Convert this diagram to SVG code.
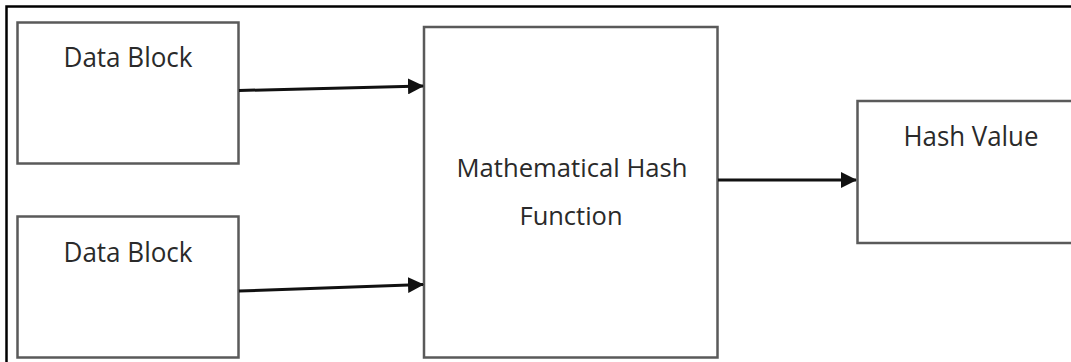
<svg xmlns="http://www.w3.org/2000/svg" width="1071" height="362" viewBox="0 0 1071 362">
  <style>
    .box { fill: #ffffff; stroke: #5a5a5a; stroke-width: 2.5; }
    .lbl { font-family: "Open Sans", "Liberation Sans", sans-serif; font-size: 28px; fill: #2a2a2a; }
    .mid { font-size: 26px; }
    .conn { stroke: #111111; stroke-width: 3; fill: none; marker-end: url(#arrow); }
    .frame { stroke: #000000; stroke-width: 2.5; fill: none; }
  </style>
  <defs>
    <marker id="arrow" markerWidth="16" markerHeight="16" refX="15" refY="8" orient="auto" markerUnits="userSpaceOnUse">
      <path d="M0,0 L16,8 L0,16 Z" fill="#111111"/>
    </marker>
  </defs>
  <rect x="0" y="0" width="1071" height="362" fill="#ffffff"/>
  <path class="frame" d="M6.5,362 L6.5,6.5 L1071,6.5"/>

  <g id="data-block-1">
    <rect class="box" x="17.5" y="22.5" width="221" height="141"/>
    <text class="lbl" x="128" y="67" text-anchor="middle" textLength="129" lengthAdjust="spacingAndGlyphs">Data Block</text>
  </g>
  <g id="data-block-2">
    <rect class="box" x="17.5" y="216.5" width="221" height="141"/>
    <text class="lbl" x="128" y="262" text-anchor="middle" textLength="129" lengthAdjust="spacingAndGlyphs">Data Block</text>
  </g>
  <g id="hash-function">
    <rect class="box" x="424" y="27" width="293.5" height="330.5"/>
    <text class="lbl mid" x="572" y="177" text-anchor="middle" textLength="231" lengthAdjust="spacingAndGlyphs">Mathematical Hash</text>
    <text class="lbl mid" x="571" y="225" text-anchor="middle" textLength="103" lengthAdjust="spacingAndGlyphs">Function</text>
  </g>
  <g id="hash-value">
    <rect class="box" x="857.5" y="101" width="230" height="142"/>
    <text class="lbl" x="971" y="146" text-anchor="middle" textLength="135" lengthAdjust="spacingAndGlyphs">Hash Value</text>
  </g>

  <g id="connectors">
    <line class="conn" x1="239" y1="90.5" x2="423" y2="86"/>
    <line class="conn" x1="239" y1="291" x2="423" y2="284.5"/>
    <line class="conn" x1="718" y1="180" x2="856" y2="180"/>
  </g>
</svg>
